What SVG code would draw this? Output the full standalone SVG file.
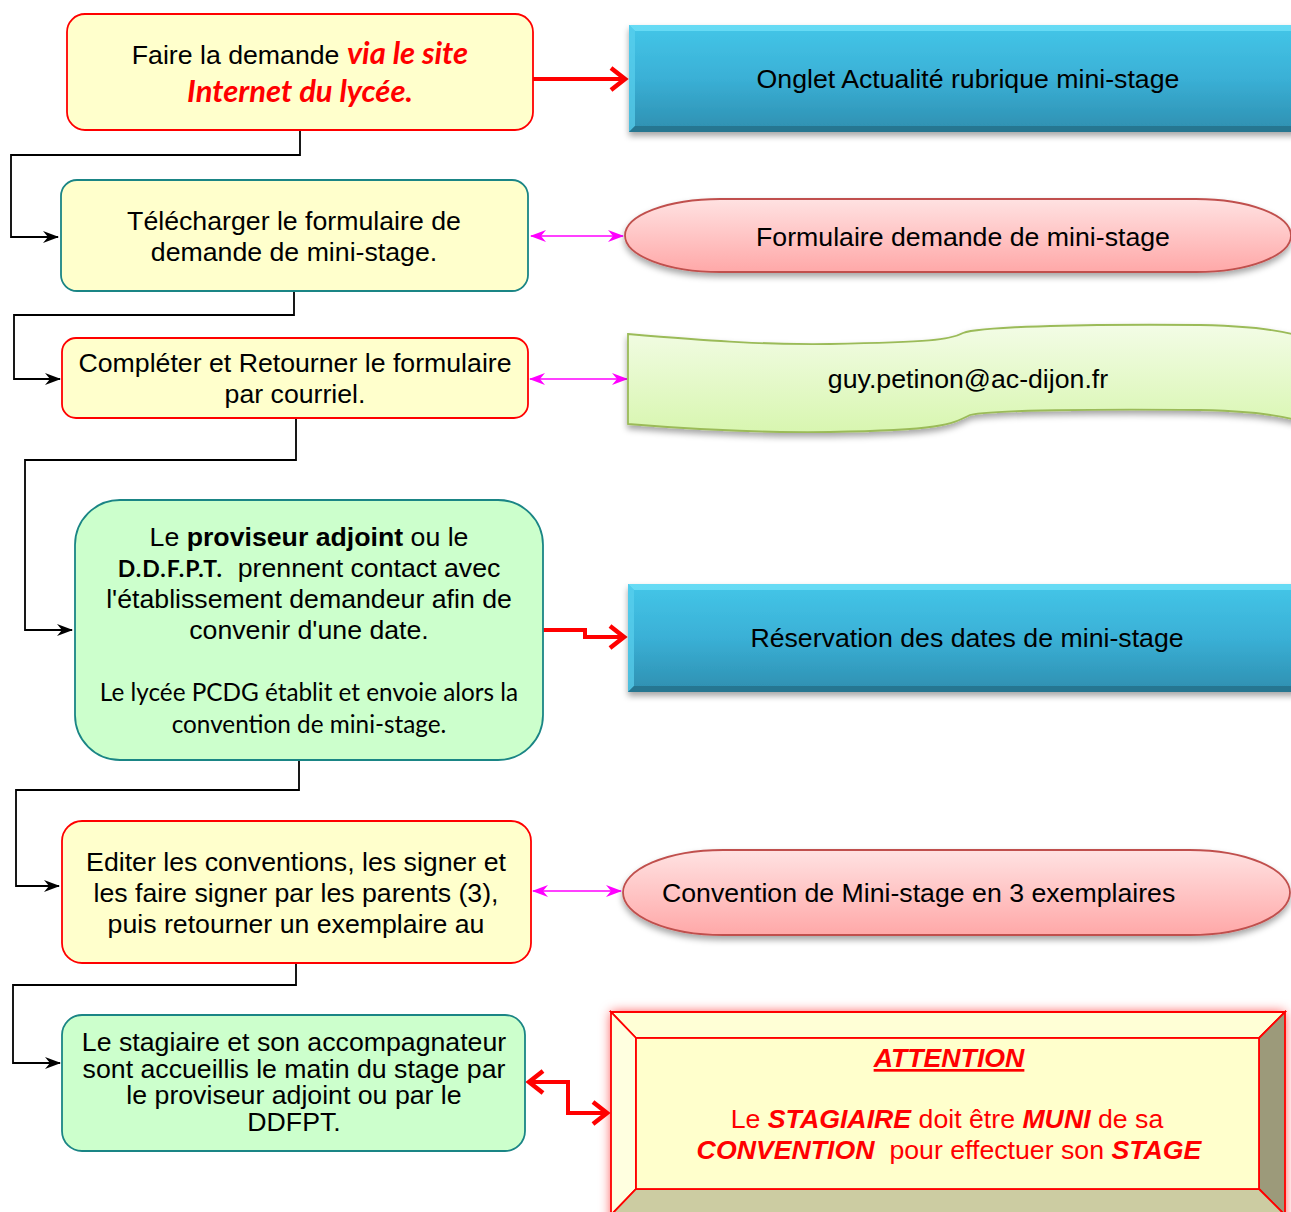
<svg xmlns="http://www.w3.org/2000/svg" width="1291" height="1212" viewBox="0 0 1291 1212">
<style>
.t{font-family:"Liberation Sans",Arial,sans-serif;font-size:26.7px;fill:#000;text-anchor:middle}
.c{font-family:Lato,"Liberation Sans",sans-serif;font-size:24.3px;fill:#000;text-anchor:middle}
.ry{fill:#ffffcc;stroke:#ff0000;stroke-width:1.8}
.ty{fill:#ffffcc;stroke:#1a8585;stroke-width:1.8}
.tg{fill:#ccffcc;stroke:#1a8585;stroke-width:1.8}
.blk{fill:none;stroke:#000;stroke-width:1.8}
.mag{fill:none;stroke:#ff00ff;stroke-width:1.5}
.red{fill:none;stroke:#ff0000;stroke-width:4}
.ri{font-family:Lato,"Liberation Sans",sans-serif;font-weight:bold;font-style:italic;fill:#ff0000;font-size:31px}
.bi{font-weight:bold;font-style:italic}
</style>
<defs>
<linearGradient id="blue" x1="0" y1="0" x2="0" y2="1">
<stop offset="0" stop-color="#44c6e8"/><stop offset="0.5" stop-color="#3ab0d6"/><stop offset="1" stop-color="#2e8fb0"/>
</linearGradient>
<linearGradient id="pink" x1="0" y1="0" x2="0" y2="1">
<stop offset="0" stop-color="#ffe2e2"/><stop offset="1" stop-color="#ffa8a8"/>
</linearGradient>
<linearGradient id="green" x1="0" y1="0" x2="0" y2="1">
<stop offset="0" stop-color="#f3fce6"/><stop offset="1" stop-color="#d8f6b0"/>
</linearGradient>
<filter id="sh" x="-5%" y="-20%" width="110%" height="150%">
<feDropShadow dx="0" dy="4" stdDeviation="3" flood-color="#000" flood-opacity="0.35"/>
</filter>
<filter id="glow" x="-5%" y="-15%" width="110%" height="140%">
<feDropShadow dx="0" dy="0" stdDeviation="6" flood-color="#ff0000" flood-opacity="0.7"/>
</filter>
<marker id="ab" markerWidth="16" markerHeight="12" refX="15" refY="6" orient="auto" markerUnits="userSpaceOnUse">
<path d="M0,0 L16,6 L0,12 L5,6 z" fill="#000"/>
</marker>
<marker id="am" markerWidth="16" markerHeight="12" refX="15" refY="6" orient="auto-start-reverse" markerUnits="userSpaceOnUse">
<path d="M0,0 L16,6 L0,12 L5,6 z" fill="#ff00ff"/>
</marker>
<marker id="ar" markerWidth="22" markerHeight="26" refX="18" refY="13" orient="auto-start-reverse" markerUnits="userSpaceOnUse">
<path d="M3,2 L17,13 L3,24" fill="none" stroke="#ff0000" stroke-width="4.5" stroke-linejoin="miter"/>
</marker>
</defs>

<g id="connectors">
<polyline class="blk" points="300,130 300,155 11,155 11,237 58,237" marker-end="url(#ab)"/>
<polyline class="blk" points="294,291 294,315 14,315 14,379 60,379" marker-end="url(#ab)"/>
<polyline class="blk" points="296,418 296,460 25,460 25,630 72,630" marker-end="url(#ab)"/>
<polyline class="blk" points="299,760 299,790 16,790 16,886 59,886" marker-end="url(#ab)"/>
<polyline class="blk" points="296,963 296,985 13,985 13,1063 60,1063" marker-end="url(#ab)"/>
<line class="red" x1="533" y1="79" x2="626" y2="79" marker-end="url(#ar)"/>
<line class="mag" x1="531" y1="236" x2="623" y2="236" marker-start="url(#am)" marker-end="url(#am)"/>
<line class="mag" x1="530" y1="379" x2="627" y2="379" marker-start="url(#am)" marker-end="url(#am)"/>
<polyline class="red" points="543,630 585,630 585,637 625,637" marker-end="url(#ar)"/>
<line class="mag" x1="533" y1="891" x2="621" y2="891" marker-start="url(#am)" marker-end="url(#am)"/>
<polyline class="red" points="528,1082 568,1082 568,1113 608,1113" marker-start="url(#ar)" marker-end="url(#ar)"/>
</g>

<g id="n1">
<rect class="ry" x="67" y="14" width="466" height="116" rx="18"/>
<text class="t" x="300" y="64"><tspan>Faire la demande </tspan><tspan class="ri">via le site</tspan></text>
<text class="ri" x="300" y="102" style="text-anchor:middle">Internet du lycée.</text>
</g>

<g id="n2">
<rect class="ty" x="61" y="180" width="467" height="111" rx="16"/>
<text class="t" x="294" y="230">Télécharger le formulaire de</text>
<text class="t" x="294" y="261">demande de mini-stage.</text>
</g>

<g id="n3">
<rect class="ry" x="62" y="338" width="466" height="80" rx="14"/>
<text class="t" x="295" y="372">Compléter et Retourner le formulaire</text>
<text class="t" x="295" y="403">par courriel.</text>
</g>

<g id="n4">
<rect class="tg" x="75" y="500" width="468" height="260" rx="45"/>
<text class="t" x="309" y="546">Le <tspan font-weight="bold">proviseur adjoint</tspan> ou le</text>
<text class="t" x="309" y="577" xml:space="preserve"><tspan style="font-family:Lato,'Liberation Sans',sans-serif;font-weight:bold;font-size:23px;letter-spacing:1px">D.D.F.P.T.</tspan>  prennent contact avec</text>
<text class="t" x="309" y="608">l'établissement demandeur afin de</text>
<text class="t" x="309" y="639">convenir d'une date.</text>
<text class="c" x="309" y="701">Le lycée PCDG établit et envoie alors la</text>
<text class="c" x="309" y="733">convention de mini-stage.</text>
</g>

<g id="n5">
<rect class="ry" x="62" y="821" width="469" height="142" rx="20"/>
<text class="t" x="296" y="871">Editer les conventions, les signer et</text>
<text class="t" x="296" y="902">les faire signer par les parents (3),</text>
<text class="t" x="296" y="933">puis retourner un exemplaire au</text>
</g>

<g id="n6">
<rect class="tg" x="62" y="1015" width="463" height="136" rx="20"/>
<text class="t" x="294" y="1051">Le stagiaire et son accompagnateur</text>
<text class="t" x="294" y="1078">sont accueillis le matin du stage par</text>
<text class="t" x="294" y="1104">le proviseur adjoint ou par le</text>
<text class="t" x="294" y="1131">DDFPT.</text>
</g>

<g id="r1">
<g filter="url(#sh)">
<rect x="629" y="25" width="680" height="107" fill="url(#blue)"/>
</g>
<polygon points="629,25 1300,25 1300,31 635,31" fill="#6fe0f8" opacity="0.8"/>
<polygon points="629,25 635,31 635,126 629,132" fill="#5ad0ee" opacity="0.7"/>
<polygon points="629,132 635,126 1300,126 1300,132" fill="#246f88" opacity="0.8"/>
<text class="t" x="968" y="88">Onglet Actualité rubrique mini-stage</text>
</g>

<g id="r2">
<rect x="625" y="199" width="666" height="73" rx="95" ry="36.5" fill="url(#pink)" stroke="#c0504d" stroke-width="1.8" filter="url(#sh)"/>
<text class="t" x="963" y="246">Formulaire demande de mini-stage</text>
</g>

<g id="r3">
<path d="M628,334 C700,340 760,345 830,344 C930,342 950,340 963,333 C980,326 1100,324 1200,325 C1250,326 1280,330 1300,336 L1300,421 C1280,415 1250,411 1200,410 C1100,409 990,410 970,415 C950,425 940,430 830,432 C760,433 700,430 628,424 Z" fill="url(#green)" stroke="#9bbb59" stroke-width="1.8" filter="url(#sh)"/>
<text class="t" x="968" y="388">guy.petinon@ac-dijon.fr</text>
</g>

<g id="r4">
<g filter="url(#sh)">
<rect x="628" y="584" width="680" height="108" fill="url(#blue)"/>
</g>
<polygon points="628,584 1300,584 1300,590 634,590" fill="#6fe0f8" opacity="0.8"/>
<polygon points="628,584 634,590 634,686 628,692" fill="#5ad0ee" opacity="0.7"/>
<polygon points="628,692 634,686 1300,686 1300,692" fill="#246f88" opacity="0.8"/>
<text class="t" x="967" y="647">Réservation des dates de mini-stage</text>
</g>

<g id="r5">
<rect x="623" y="850" width="667" height="85" rx="100" ry="42.5" fill="url(#pink)" stroke="#c0504d" stroke-width="1.8" filter="url(#sh)"/>
<text class="t" x="662" y="902" style="text-anchor:start">Convention de Mini-stage en 3 exemplaires</text>
</g>

<g id="r6">
<rect x="611" y="1012" width="674" height="220" fill="#ffffcc" filter="url(#glow)"/>
<polygon points="611,1012 1285,1012 1259,1038 636,1038" fill="#ffffd6" stroke="#ff0000" stroke-width="1.8"/>
<polygon points="611,1012 636,1038 636,1189 611,1215" fill="#ffffe0" stroke="#ff0000" stroke-width="1.8"/>
<polygon points="1285,1012 1285,1215 1259,1189 1259,1038" fill="#9c9a7a" stroke="#ff0000" stroke-width="1.8"/>
<polygon points="636,1189 1259,1189 1285,1215 611,1215" fill="#cccca2" stroke="#ff0000" stroke-width="1.8"/>
<rect x="636" y="1038" width="623" height="151" fill="#ffffcc" stroke="#ff0000" stroke-width="1.8"/>
<text class="t bi" x="949" y="1067" style="fill:#ff0000;text-decoration:underline">ATTENTION</text>
<text class="t" x="947" y="1128" style="fill:#ff0000">Le <tspan class="bi">STAGIAIRE</tspan> doit être <tspan class="bi">MUNI</tspan> de sa</text>
<text class="t" x="949" y="1159" style="fill:#ff0000" xml:space="preserve"><tspan class="bi">CONVENTION</tspan>  pour effectuer son <tspan class="bi">STAGE</tspan></text>
</g>
</svg>
